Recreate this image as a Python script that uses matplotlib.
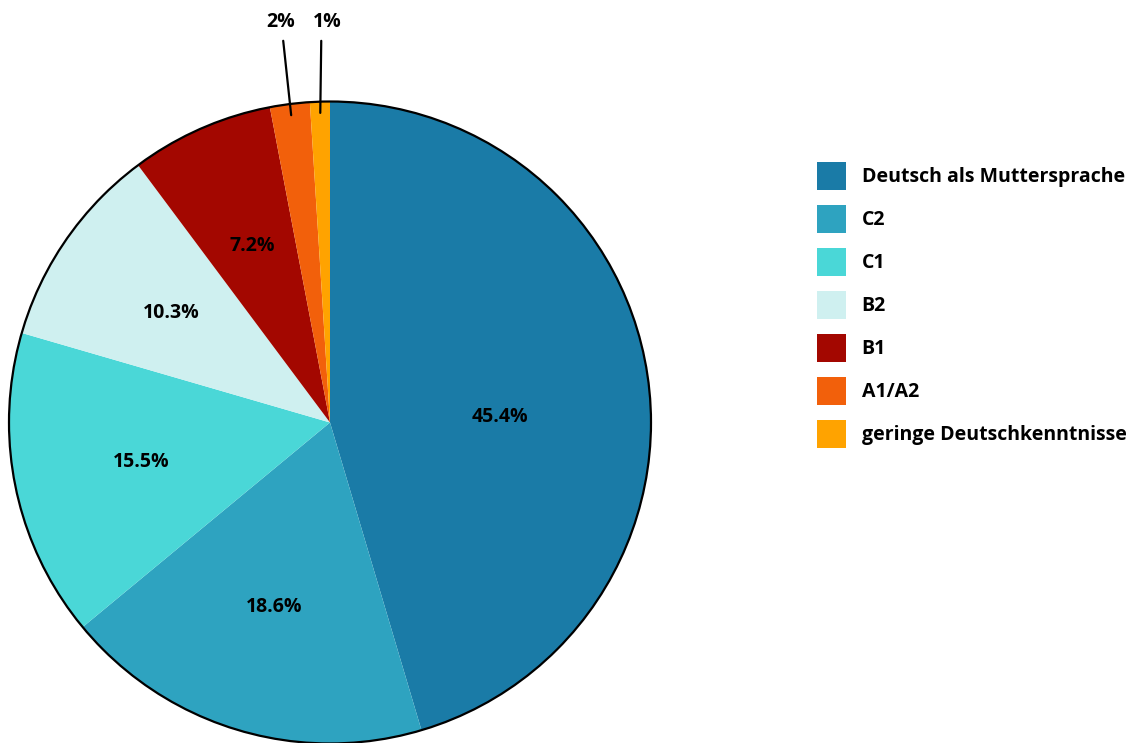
import numpy as np
import matplotlib
matplotlib.use("Agg")
import matplotlib.pyplot as plt
from matplotlib.patches import Circle

# Daten
kategorien = ["Deutsch als Muttersprache", "C2", "C1", "B2", "B1", "A1/A2",
              "geringe Deutschkenntnisse"]
anteile = [45.4, 18.6, 15.5, 10.3, 7.2, 2, 1]
beschriftung = ["45.4%", "18.6%", "15.5%", "10.3%", "7.2%", "2%", "1%"]
farben = ["#1a7ba7", "#2ea3c0", "#4ad7d7", "#cff0f0", "#a30700", "#f2600b", "#ffa300"]

plt.rcParams["font.family"] = ["Open Sans", "DejaVu Sans"]

W, H = 1133, 743
R = 321.0                 # Radius in px
cx, cy = 330.0, 422.5     # Mittelpunkt in px (von oben)
FS = 14

fig = plt.figure(figsize=(W / 100, H / 100), dpi=100)
ax = fig.add_axes([0, 0, 1, 1])

wedges, _ = ax.pie(anteile, colors=farben, startangle=90, counterclock=False,
                   radius=1, wedgeprops=dict(linewidth=0))
for w in wedges:
    w.set_clip_on(False)
ax.add_patch(Circle((0, 0), 1, fill=False, lw=1.6, ec="black", clip_on=False))

ax.set_xlim(-cx / R, (W - cx) / R)
ax.set_ylim(-(H - cy) / R, cy / R)
ax.set_aspect("equal", adjustable="box")
ax.axis("off")

# Prozentwerte in den Segmenten (Abstand, Lage im Segment 0..1)
abstand = [0.53, 0.6, 0.6, 0.6, 0.6]
lage = [0.46, 0.5, 0.5, 0.5, 0.5]
for w, txt, d, f in zip(wedges, beschriftung, abstand, lage):
    ang = np.deg2rad(w.theta1 + f * (w.theta2 - w.theta1))
    ax.text(d * np.cos(ang), d * np.sin(ang), txt, ha="center", va="center",
            fontsize=FS, fontweight="bold")

# kleine Segmente mit Linien nach oben
text_x = [-0.153, -0.009]
rel_x = [0.55, 0.3]
for w, txt, tx, rx in zip(wedges[5:], beschriftung[5:], text_x, rel_x):
    ang = np.deg2rad((w.theta1 + w.theta2) / 2)
    ax.annotate(txt, xy=(0.965 * np.cos(ang), 0.965 * np.sin(ang)),
                xytext=(tx, 1.215), ha="center", va="bottom",
                fontsize=FS, fontweight="bold", annotation_clip=False,
                arrowprops=dict(arrowstyle="-", lw=1.6, color="black",
                                shrinkA=4, shrinkB=0, relpos=(rx, 0)))

leg = ax.legend(wedges, kategorien, loc="upper left",
                bbox_to_anchor=(817 / W, 1 - 162 / H),
                bbox_transform=fig.transFigure, frameon=False,
                prop=dict(size=FS, weight="bold"), borderpad=0,
                borderaxespad=0, handlelength=1.49, handleheight=1.875,
                handletextpad=0.8, labelspacing=0.745)

fig.savefig("out.png", dpi=100)
